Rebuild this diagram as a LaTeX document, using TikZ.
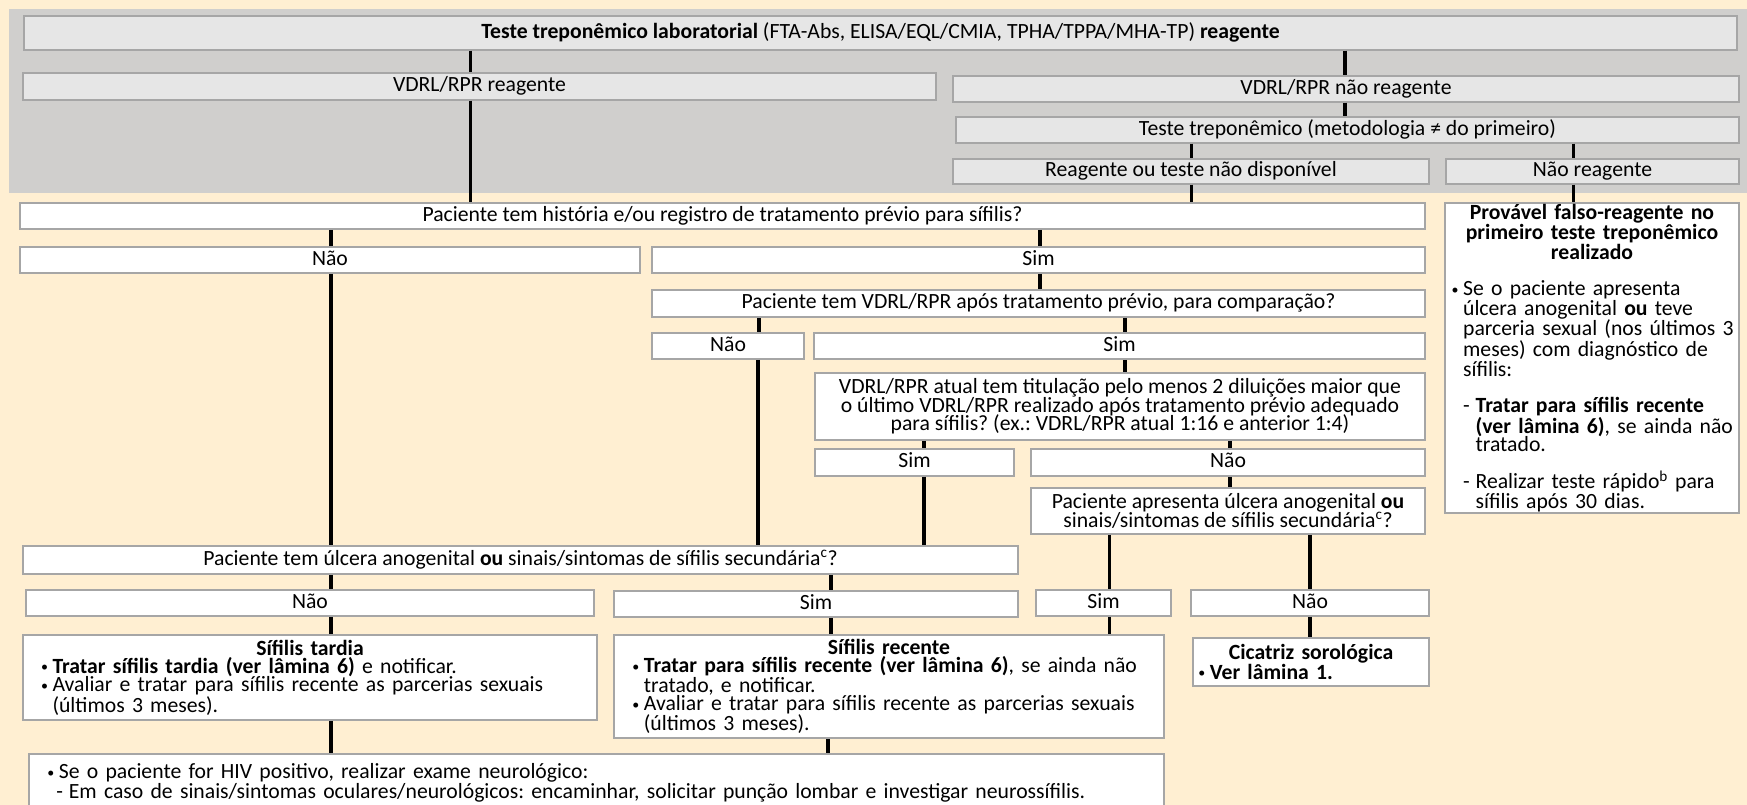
\documentclass[tikz,border=0pt]{standalone}
\usepackage{fontspec}
\setmainfont{Carlito}
\definecolor{cream}{HTML}{FFEFD2}
\definecolor{band}{HTML}{D0CFCD}
\definecolor{gfill}{HTML}{E6E6E6}
\definecolor{edge}{HTML}{A6A6A6}
\setlength\parindent{0pt}
\lineskiplimit=-100pt
\lineskip=0pt
\frenchspacing
\newcommand\fs{\fontsize{21.7}{18.4}\selectfont\frenchspacing}
\newcommand\lnbox[1]{\mbox{#1}}
\newcommand\bul{\makebox[12.5pt][l]{\hspace*{1pt}\raisebox{1.5pt}{\fontsize{14}{14}\selectfont •}}}
\newcommand\dsh{\makebox[12.5pt][l]{-}}
\newcommand\ind{\hspace*{12.5pt}}
\tikzset{
 base/.style={draw=edge, line width=1.5pt, inner sep=0pt, font=\fs, align=center},
 sgl/.style={text height=15.5pt, text depth=5pt},
 gbox/.style={base, sgl, fill=gfill},
 wbox/.style={base, sgl, fill=white},
 mbox/.style={base, fill=white},
 conn/.style={line width=3.5pt, black},
}
\newcommand\vc[3]{\draw[conn] (#1,0 |- #2.south) -- (#1,0 |- #3.north);}
\begin{document}
\begin{tikzpicture}[x=1pt,y=-1pt]
\useasboundingbox (0,0) rectangle (1747,805);
\clip (0,0) rectangle (1747,805);
\fill[cream] (0,0) rectangle (1747,805);
\fill[band] (9,9) rectangle (1747,193);
% grey band
\node[gbox, minimum width=1713, minimum height=34] (top) at (880.5,33)
 {\textbf{Teste treponêmico laboratorial} (FTA-Abs, ELISA/EQL/CMIA, TPHA/TPPA/MHA-TP) \textbf{reagente}};
\node[gbox, minimum width=913, minimum height=27] (vr) at (479.5,86.5) {VDRL/RPR reagente};
\node[gbox, minimum width=786, minimum height=26] (vnr) at (1346,89) {VDRL/RPR não reagente};
\node[gbox, minimum width=783, minimum height=26] (tt) at (1347.5,130) {Teste treponêmico (metodologia ≠ do primeiro)};
\node[gbox, minimum width=476, minimum height=25] (rtnd) at (1191,171.5) {Reagente ou teste não disponível};
\node[gbox, minimum width=293, minimum height=25] (nr) at (1592.5,171.5) {Não reagente};
% white boxes
\node[wbox, minimum width=1405, minimum height=26] (hist) at (722.5,216) {Paciente tem história e/ou registro de tratamento prévio para sífilis?};
\node[wbox, minimum width=620, minimum height=26] (nao1) at (330,260) {Não};
\node[wbox, minimum width=773, minimum height=26] (sim1) at (1038.5,260) {Sim};
\node[wbox, minimum width=773, minimum height=27] (pvdrl) at (1038.5,303.5) {Paciente tem VDRL/RPR após tratamento prévio, para comparação?};
\node[wbox, minimum width=152, minimum height=26] (nao2) at (728,346) {Não};
\node[wbox, minimum width=611, minimum height=26] (sim2) at (1119.5,346) {Sim};
\node[mbox, minimum width=610, minimum height=67] (atual) at (1120,406.5)
 {VDRL/RPR atual tem titulação pelo menos 2 diluições maior que\\ o último VDRL/RPR realizado após tratamento prévio adequado\\ para sífilis? (ex.: VDRL/RPR atual 1:16 e anterior 1:4)};
\node[wbox, minimum width=199, minimum height=27] (sim3) at (914.5,462.5) {Sim};
\node[wbox, minimum width=394, minimum height=27] (nao3) at (1228,462.5) {Não};
\node[mbox, minimum width=394, minimum height=46] (apres) at (1228,511)
 {Paciente apresenta úlcera anogenital \textbf{ou}\\ sinais/sintomas de sífilis secundária\textsuperscript{c}?};
\node[mbox, minimum height=310, text width=282.8, inner xsep=5.6, align=left] (prov) at (1592,358)
 {{\centering\bfseries Provável falso-reagente no\\ primeiro teste treponêmico\\ realizado\par}
  \vspace{18.4pt}
  \lnbox{\bul Se o paciente apresenta}\\
  \lnbox{\ind úlcera anogenital \textbf{ou} teve}\\
  \lnbox{\ind parceria sexual (nos últimos 3}\\
  \lnbox{\ind meses) com diagnóstico de}\\
  \lnbox{\ind sífilis:}\par
  \vspace{18.4pt}
  \lnbox{\ind\dsh\textbf{Tratar para sífilis recente}}\\
  \lnbox{\ind\ind\textbf{(ver lâmina 6)}, se ainda não}\\
  \lnbox{\ind\ind tratado.}\par
  \vspace{18.4pt}
  \lnbox{\ind\dsh Realizar teste rápido\textsuperscript{b} para}\\
  \lnbox{\ind\ind sífilis após 30 dias.}};
\node[wbox, minimum width=995, minimum height=28] (ulc) at (520.5,560)
 {Paciente tem úlcera anogenital \textbf{ou} sinais/sintomas de sífilis secundária\textsuperscript{c}?};
\node[wbox, minimum width=568, minimum height=26] (nao4) at (310,603) {Não};
\node[wbox, minimum width=404, minimum height=26] (sim4) at (816,604) {Sim};
\node[wbox, minimum width=135, minimum height=26] (sim5) at (1103.5,603) {Sim};
\node[wbox, minimum width=238, minimum height=26] (nao5) at (1310,603) {Não};
\node[mbox, minimum height=85, text width=540, inner xsep=17, align=left] (tardia) at (310,677.5)
 {{\centering\bfseries Sífilis tardia\par}
  \lnbox{\bul\textbf{Tratar sífilis tardia (ver lâmina 6)} e notificar.}\\
  \lnbox{\bul Avaliar e tratar para sífilis recente as parcerias sexuais}\\
  \lnbox{\ind(últimos 3 meses).}};
\node[mbox, minimum height=103, text width=515.2, inner xsep=17.4, align=left] (recente) at (889,686.5)
 {{\centering\bfseries Sífilis recente\par}
  \lnbox{\bul\textbf{Tratar para sífilis recente (ver lâmina 6)}, se ainda não}\\
  \lnbox{\ind tratado, e notificar.}\\
  \lnbox{\bul Avaliar e tratar para sífilis recente as parcerias sexuais}\\
  \lnbox{\ind(últimos 3 meses).}};
\node[mbox, minimum height=48, text width=227.2, inner xsep=4.4, align=left] (cicat) at (1311,662)
 {{\centering\bfseries Cicatriz sorológica\par}
  \lnbox{\bul\textbf{Ver lâmina 1.}}};
\node[mbox, minimum height=58, text width=1100.2, inner xsep=17.4, align=left] (bottom) at (596.5,783)
 {\lnbox{\bul Se o paciente for HIV positivo, realizar exame neurológico:}\\
  \lnbox{\hspace*{10pt}\dsh Em caso de sinais/sintomas oculares/neurológicos: encaminhar, solicitar punção lombar e investigar neurossífilis.}};
% connectors
\vc{470.7}{top}{vr}
\vc{1345}{top}{vnr}
\vc{1345}{vnr}{tt}
\vc{1191.5}{tt}{rtnd}
\vc{1573.6}{tt}{nr}
\vc{470.7}{vr}{hist}
\vc{1191.5}{rtnd}{hist}
\vc{1573.6}{nr}{prov}
\vc{331}{hist}{nao1}
\vc{1040}{hist}{sim1}
\vc{1040}{sim1}{pvdrl}
\vc{759}{pvdrl}{nao2}
\vc{1125}{pvdrl}{sim2}
\vc{331}{nao1}{ulc}
\vc{758}{nao2}{ulc}
\vc{1125}{sim2}{atual}
\vc{924}{atual}{sim3}
\vc{1230}{atual}{nao3}
\vc{924}{sim3}{ulc}
\vc{1230}{nao3}{apres}
\vc{331}{ulc}{nao4}
\vc{831}{ulc}{sim4}
\vc{1109.5}{apres}{sim5}
\vc{1310}{apres}{nao5}
\vc{331}{nao4}{tardia}
\vc{831}{sim4}{recente}
\vc{1109.5}{sim5}{recente}
\vc{1310}{nao5}{cicat}
\vc{331}{tardia}{bottom}
\vc{828}{recente}{bottom}
\end{tikzpicture}
\end{document}
